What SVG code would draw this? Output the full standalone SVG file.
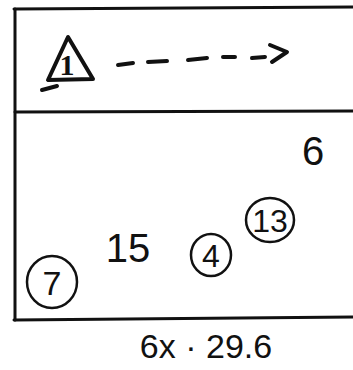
<svg xmlns="http://www.w3.org/2000/svg" width="353" height="370" viewBox="0 0 353 370">
<style>
.ln{stroke:#111;stroke-width:3;fill:none;stroke-linecap:round;stroke-linejoin:round}
.th{stroke-width:4}
.ci{stroke:#111;stroke-width:2.5;fill:none}
.t{font-family:"Liberation Sans",Arial,sans-serif;fill:#111;text-anchor:middle}
</style>
<rect width="353" height="370" fill="#fff"/>
<g id="frame">
<path class="ln" d="M14,9 L353,7"/>
<path class="ln" d="M15,9 L15,320"/>
<path class="ln" d="M15,112 L353,111"/>
<path class="ln" d="M14,320 L353,317"/>
</g>
<g id="node-1">
<path class="ln th" d="M68,37 L48,80 L93,79 Z"/>
<path class="ln th" d="M42,90 L57,86"/>
<text x="67" y="75" font-size="30" font-family="Liberation Serif, serif" font-weight="bold" text-anchor="middle" fill="#111">1</text>
</g>
<g id="connectors">
<path class="ln th" d="M118,65 L133,63 M148,62 L167,61 M188,60 L207,58 M223,57 L235,57 M252,58 L265,57"/>
<path class="ln th" d="M270,45 L287,52 L272,62"/>
</g>
<g id="node-6"><text class="t" x="313" y="165" font-size="40">6</text></g>
<g id="node-13"><ellipse class="ci" cx="270" cy="220" rx="24" ry="22"/><text class="t" x="270" y="232" font-size="32">13</text></g>
<g id="node-15"><text class="t" x="128" y="262" font-size="40">15</text></g>
<g id="node-4"><ellipse class="ci" cx="211" cy="255" rx="20" ry="21"/><text class="t" x="211" y="267" font-size="32">4</text></g>
<g id="node-7"><ellipse class="ci" cx="52" cy="282" rx="25" ry="26"/><text class="t" x="52" y="295" font-size="34">7</text></g>
<g id="label"><text class="t" x="206" y="358" font-size="34">6x · 29.6</text></g>
</svg>
